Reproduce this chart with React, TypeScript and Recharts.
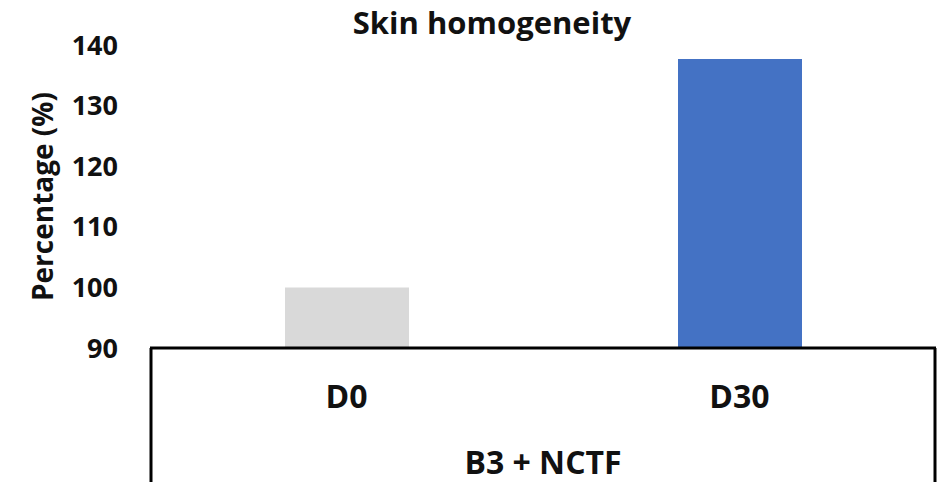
import { BarChart, Bar, XAxis, YAxis, Cell } from 'recharts';

const categories = ['D0', 'D30'];
const values = [100, 137.7];
const barColors = ['#D9D9D9', '#4472C4'];
const yTicks = [90, 100, 110, 120, 130, 140];
const groupLabel = 'B3 + NCTF';

const data = categories.map((name, i) => ({ name, value: values[i] }));

const font = '"Open Sans", sans-serif';

function CategoryTick({ x, y, payload }: any) {
  return (
    <text x={x} y={y + 45} textAnchor="middle" dominantBaseline="central" fontFamily={font} fontWeight={700} fontSize={32} fill="#111">
      {payload.value}
    </text>
  );
}

function GroupBox({ viewBox }: any) {
  const { x, y, width, height } = viewBox;
  return (
    <g>
      <line x1={x + 1} y1={y} x2={x + 1} y2={y + height + 10} stroke="#000" strokeWidth={3} />
      <line x1={x + width - 1} y1={y} x2={x + width - 1} y2={y + height + 10} stroke="#000" strokeWidth={3} />
      <text x={x + width / 2} y={y + 113} textAnchor="middle" dominantBaseline="central" fontFamily={font} fontWeight={700} fontSize={32} fill="#111">
        {groupLabel}
      </text>
    </g>
  );
}

function YTitle({ viewBox }: any) {
  const { x, y, height } = viewBox;
  const cx = x + 42;
  const cy = y + height / 2;
  return (
    <text x={cx} y={cy} transform={`rotate(-90 ${cx} ${cy})`} textAnchor="middle" dominantBaseline="central" fontFamily={font} fontWeight={700} fontSize={28} fill="#111">
      Percentage (%)
    </text>
  );
}

export default function App() {
  return (
    <div style={{ position: 'absolute', left: 0, top: 0, width: 944, height: 482, background: '#fff', overflow: 'hidden' }}>
      <div style={{ position: 'absolute', left: 292, top: 6, width: 400, textAlign: 'center', fontFamily: font, fontWeight: 700, fontSize: 31, lineHeight: '32px', color: '#111' }}>
        Skin homogeneity
      </div>
      <BarChart width={944} height={482} data={data} margin={{ top: 45, right: 8, bottom: 0, left: 0 }}>
        <XAxis
          dataKey="name"
          height={134}
          tickLine={false}
          tickSize={0}
          axisLine={{ stroke: '#000', strokeWidth: 3 }}
          tick={<CategoryTick />}
          label={{ content: (props: any) => <GroupBox {...props} /> }}
        />
        <YAxis
          width={150}
          domain={[90, 140]}
          ticks={yTicks}
          allowDataOverflow
          tickLine={false}
          axisLine={false}
          tickSize={6}
          tickMargin={26}
          tick={{ fontFamily: font, fontWeight: 700, fontSize: 27, fill: '#111' }}
          label={{ content: (props: any) => <YTitle {...props} /> }}
        />
        <Bar dataKey="value" barSize={124} isAnimationActive={false}>
          {data.map((d, i) => (
            <Cell key={d.name} fill={barColors[i]} />
          ))}
        </Bar>
      </BarChart>
    </div>
  );
}
